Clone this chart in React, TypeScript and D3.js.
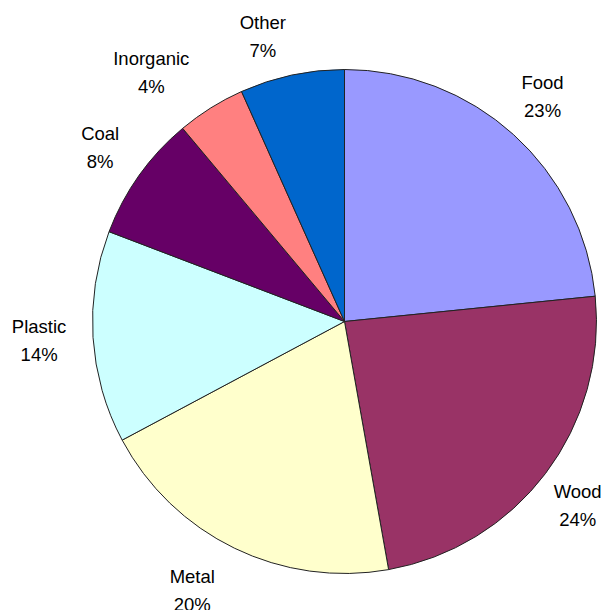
import React from "react";
import * as d3 from "d3";

const categories = ["Food", "Wood", "Metal", "Plastic", "Coal", "Inorganic", "Other"];
const values = [23.4, 23.8, 20.0, 13.6, 8.1, 4.4, 6.7];
const colors = ["#9999FF", "#993366", "#FFFFCC", "#CCFFFF", "#660066", "#FF8080", "#0066CC"];

// layout tweaks (degrees) for label placement, mimicking the original's label nudging
const labelAngleNudge: Record<string, number> = { Metal: 3.6, Inorganic: -5.8, Other: -3.9, Food: -0.8, Wood: 1.2 };
const labelRadiusNudge: Record<string, number> = { Metal: 9, Plastic: 6, Inorganic: 15, Other: -3, Wood: -3 };

const W = 604;
const H = 610;
const cx = 344.5;
const cy = 321.5;
const R = 252;
const labelR = 300;

export default function App() {
  const total = d3.sum(values);
  const pie = d3.pie<number>().sort(null).value((d) => d)(values);
  const arc = d3.arc<d3.PieArcDatum<number>>().innerRadius(0).outerRadius(R);
  return (
    <svg width={W} height={H} style={{ position: "absolute", left: 0, top: 0, background: "#fff" }}>
      <g transform={`translate(${cx},${cy})`}>
        {pie.map((p, i) => (
          <path key={i} d={arc(p) || ""} fill={colors[i]} stroke="#222" strokeWidth={1} strokeLinejoin="round" />
        ))}
        {pie.map((p, i) => {
          const name = categories[i];
          const mid = (p.startAngle + p.endAngle) / 2 + ((labelAngleNudge[name] || 0) * Math.PI) / 180;
          const rr = labelR + (labelRadiusNudge[name] || 0);
          const x = rr * Math.sin(mid);
          const y = -rr * Math.cos(mid);
          const pct = d3.format(".0f")((values[i] / total) * 100) + "%";
          return (
            <g key={"l" + i} fontFamily="'Liberation Sans', Arial, sans-serif" fontSize={18.5} fill="#000" textAnchor="middle">
              <text x={x} y={y - 14 + 6.6}>{name}</text>
              <text x={x} y={y + 14 + 6.6}>{pct}</text>
            </g>
          );
        })}
      </g>
    </svg>
  );
}
